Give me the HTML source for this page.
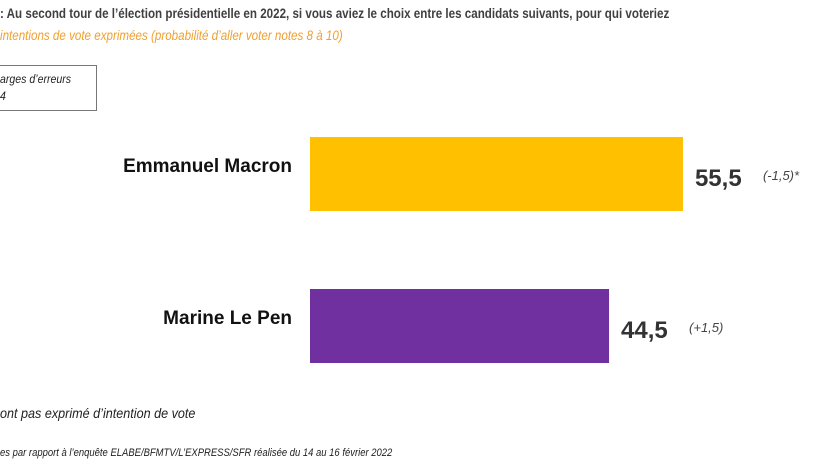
<!DOCTYPE html>
<html><head><meta charset="utf-8"><style>
body{margin:0;width:826px;height:465px;background:#fff;position:relative;overflow:hidden;font-family:"Liberation Sans",sans-serif}
.t{position:absolute;white-space:nowrap}
</style></head><body>
<div class="t" style="left:0;top:6px;font-size:13.5px;font-weight:bold;color:#404040;transform:scaleX(0.86);transform-origin:0 0">: Au second tour de l’élection présidentielle en 2022, si vous aviez le choix entre les candidats suivants, pour qui voteriez</div>
<div class="t" style="left:0;top:28px;font-size:13.5px;font-style:italic;color:#f0a030;transform:scaleX(0.86);transform-origin:0 0">intentions de vote exprimées (probabilité d’aller voter notes 8 à 10)</div>
<div style="position:absolute;left:-2px;top:65px;width:97px;height:44px;border:1px solid #777"></div>
<div class="t" style="left:0;top:71px;font-size:12px;font-style:italic;color:#222;line-height:17px;transform:scaleX(0.88);transform-origin:0 0">arges d’erreurs<br>4</div>
<svg id="c" width="826" height="465" style="position:absolute;left:0;top:0"></svg>
<div class="t" style="left:0;top:405px;font-size:14px;font-style:italic;color:#222;transform:scaleX(0.9);transform-origin:0 0">ont pas exprimé d’intention de vote</div>
<div class="t" style="left:0;top:447px;font-size:11px;font-style:italic;color:#222;transform:scaleX(0.86);transform-origin:0 0">es par rapport à l’enquête ELABE/BFMTV/L’EXPRESS/SFR réalisée du 14 au 16 février 2022</div>
<script>
const categories=["Emmanuel Macron","Marine Le Pen"];
const values=[55.5,44.5];
const labels=["55,5","44,5"];
const changes=["(-1,5)*","(+1,5)"];
const colors=["#ffc000","#7030a0"];
const svg=document.getElementById('c');
const NS="http://www.w3.org/2000/svg";
const x=v=>310+v*6.72;
const yTop=i=>137+i*152;
const bh=74;
categories.forEach((c,i)=>{
 const r=document.createElementNS(NS,'rect');
 
 
 r.setAttribute('x',x(0));r.setAttribute('y',yTop(i));
 r.setAttribute('width',x(values[i])-x(0));r.setAttribute('height',bh);
 r.setAttribute('fill',colors[i]);svg.appendChild(r);
 const t=document.createElementNS(NS,'text');
 
 
 t.setAttribute('x',292);t.setAttribute('y',yTop(i)+bh/2-2);
 t.setAttribute('text-anchor','end');t.setAttribute('font-size','19');t.setAttribute('font-weight','bold');t.setAttribute('fill','#111');
 t.textContent=c;svg.appendChild(t);
 const v=document.createElementNS(NS,'text');
 
 
 v.setAttribute('x',x(values[i])+12);v.setAttribute('y',yTop(i)+bh/2+12);
 v.setAttribute('font-size','24');v.setAttribute('font-weight','bold');v.setAttribute('fill','#333');
 v.textContent=labels[i];svg.appendChild(v);
 const d=document.createElementNS(NS,'text');
 
 
 d.setAttribute('x',x(values[i])+80);d.setAttribute('y',yTop(i)+bh/2+6);
 d.setAttribute('font-size','13');d.setAttribute('font-style','italic');d.setAttribute('fill','#444');
 d.textContent=changes[i];svg.appendChild(d);
});
</script>
</body></html>
